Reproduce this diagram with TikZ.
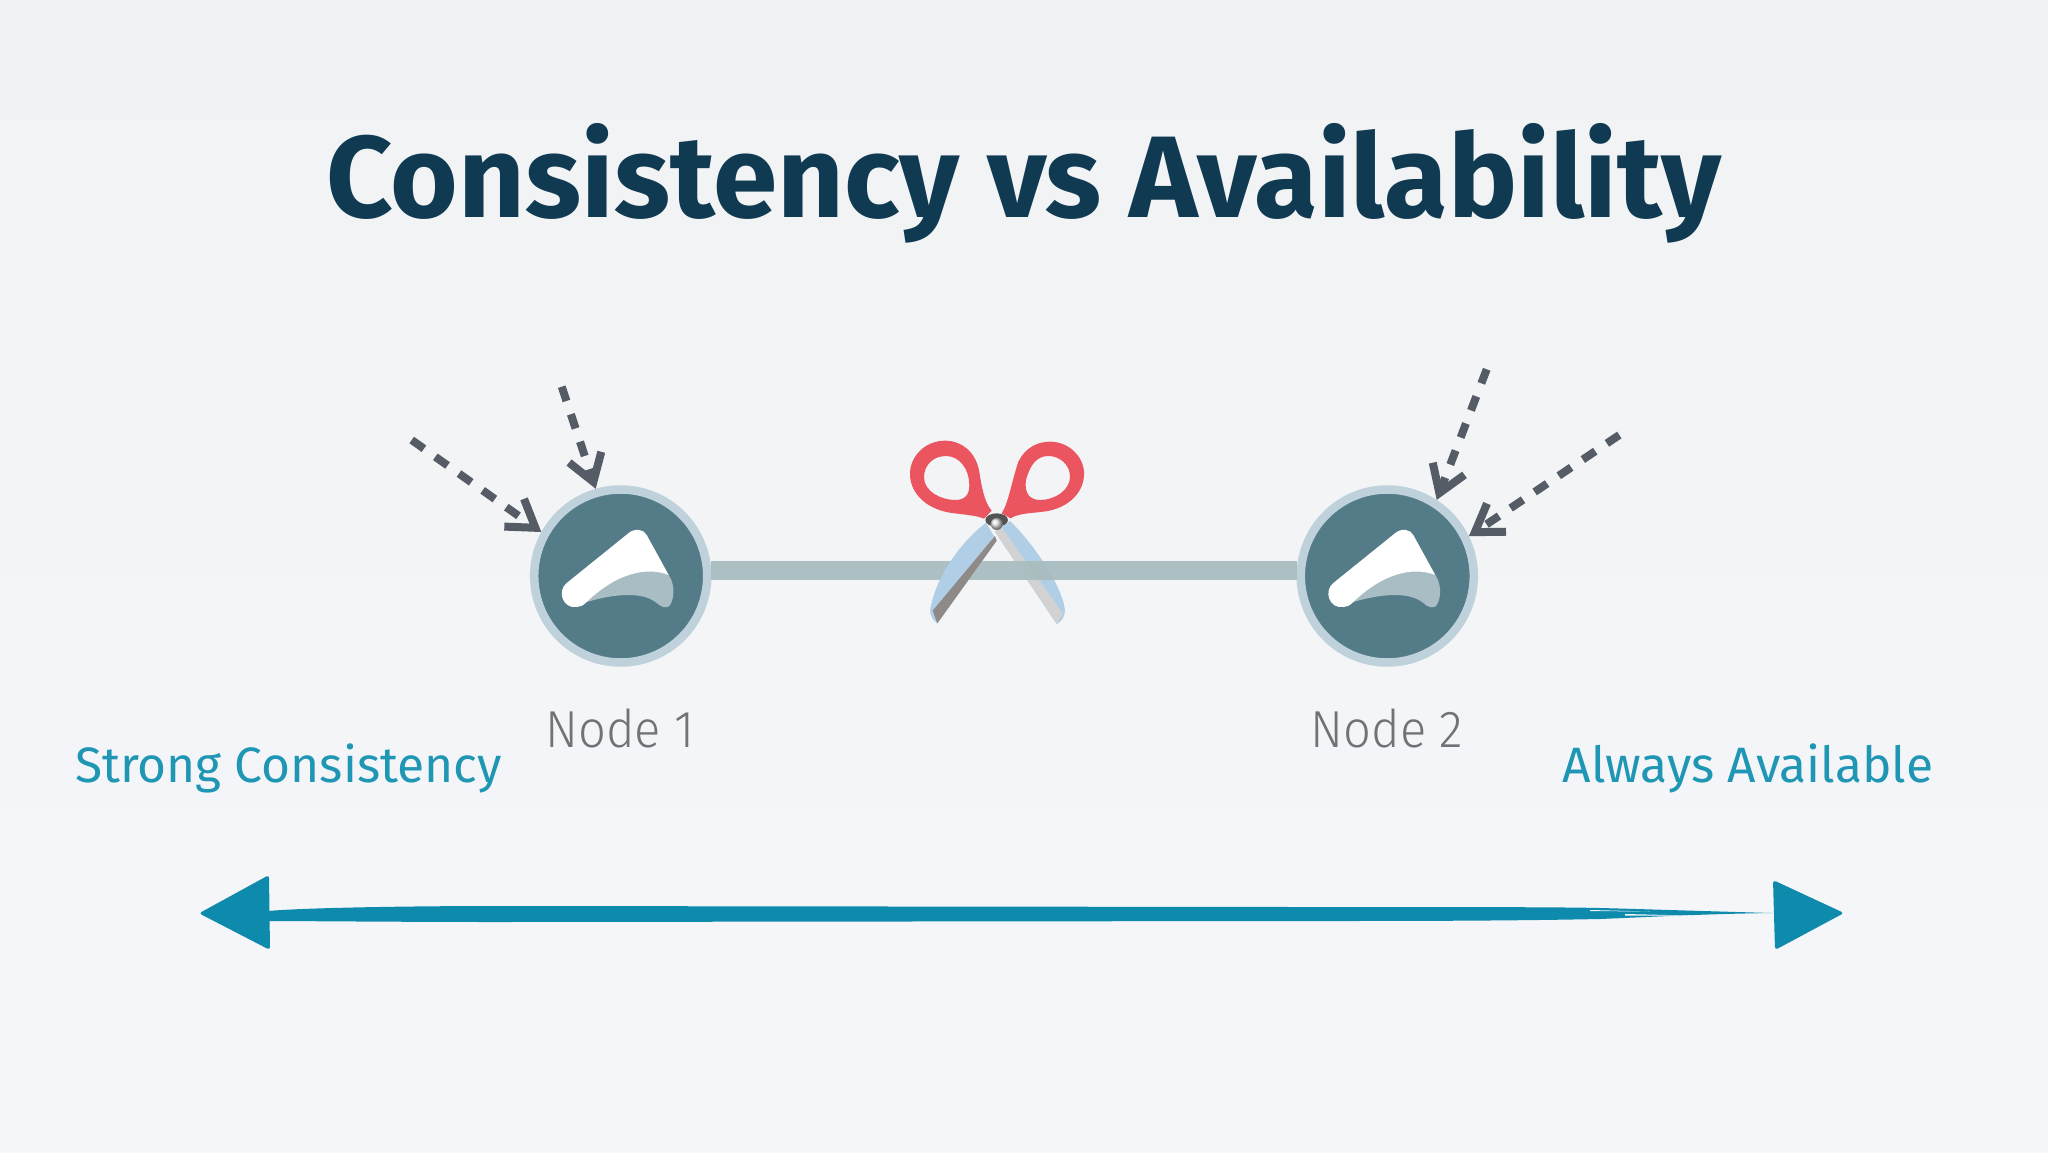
\documentclass[tikz,border=0pt]{standalone}
\usepackage{fontspec}
\usetikzlibrary{arrows.meta}
\setmainfont{Fira Sans}
\newfontfamily\lightfont[FakeStretch=0.94]{Fira Sans Light}
\definecolor{titleink}{HTML}{0F3A52}
\definecolor{spanink}{HTML}{0E8AAD}
\definecolor{labelink}{HTML}{1E96B4}
\definecolor{nodeink}{HTML}{6E7378}
\definecolor{reqink}{HTML}{565C66}
\definecolor{linkink}{HTML}{A9BDC0}
\definecolor{ringink}{HTML}{BFD2DC}
\definecolor{discink}{HTML}{537C88}
\definecolor{shadeink}{HTML}{A9BEC4}
\definecolor{handleink}{HTML}{EA5560}
\definecolor{bladeink}{HTML}{B0CFE6}
\definecolor{edgeink}{HTML}{8F8A88}
\definecolor{bgtop}{HTML}{F1F2F3}
\definecolor{bgmid}{HTML}{F3F5F9}
\definecolor{bgbot}{HTML}{F6F7FA}

\begin{document}
\begin{tikzpicture}[x=1pt,y=-1pt]

    \useasboundingbox (0,0) rectangle (2048,1152);

    % Styles
    \tikzstyle{srv}=[circle,draw=ringink,fill=discink,line width=8.5pt,minimum size=173pt,inner sep=0pt]
    \tikzstyle{req}=[draw=reqink,line width=8pt,dash pattern=on 15pt off 14pt,-{Straight Barb[length=26pt,width=34pt,line width=8pt]}]
    \tikzstyle{srvlabel}=[anchor=base,text=nodeink,font=\lightfont\fontsize{52}{52}\selectfont]
    \tikzstyle{sidelabel}=[anchor=base,text=labelink,font=\fontsize{49.7}{50}\selectfont]
    \tikzstyle{handle}=[fill=handleink,even odd rule]

    % background
    \shade[top color=bgtop,middle color=bgmid,bottom color=bgbot] (0,0) rectangle (2048,1152);

    % title
    \node[anchor=base,text=titleink,font=\bfseries\fontsize{116}{116}\selectfont] (title) at (1024,217) {Consistency vs Availability};

    % right blade, under the link
    \begin{scope}[shift={(880,420)},scale=1/3]
    \fill[bladeink] (345,335) -- (390,303) .. controls (450,360) and (545,490) .. (555,570) .. controls (555,590) and (545,605) .. (530,612) -- cycle;
    \fill[gray!35!white] (345,335) -- (530,612) -- (548,580) -- (365,322) -- cycle;
    \end{scope}

    % nodes
    \node[srv] (srva) at (620.7,576) {};
    \node[srv] (srvb) at (1387.3,576) {};

    % link
    \draw[linkink,line width=19pt,draw opacity=0.95] ([yshift=6pt]srva.east) -- ([yshift=6pt]srvb.west);

    % logo in the nodes
    \foreach \n in {srva,srvb} {
    \begin{scope}[shift={(\n)}]
    \fill[shadeink] (48,-1) .. controls (54,8) and (54,20) .. (50,28) .. controls (47,34) and (40,31) .. (36,27) .. controls (24,17) and (0,16) .. (-34,26) .. controls (-14,5) and (20,-14) .. (48,-1) -- cycle;
    \fill[white] (-54,7) -- (8,-43) .. controls (14,-48) and (23,-47) .. (26,-41) -- (48,-1) .. controls (25,-10) and (-5,-2) .. (-34,26) .. controls (-38,30) and (-41,31) .. (-44,31) .. controls (-58,33) and (-64,15) .. (-54,7) -- cycle;
    \end{scope}
    }

    % left blade and handles
    \begin{scope}[shift={(880,420)},scale=1/3]
    \fill[bladeink] (318,308) .. controls (250,360) and (170,460) .. (150,570) .. controls (150,585) and (158,600) .. (172,610) -- (350,362) -- cycle;
    \fill[edgeink] (345,348) -- (350,362) -- (172,610) -- (158,572) -- cycle;
    \fill[gray!65!black] (350,300) ellipse [x radius=34,y radius=20];
    \fill[handle] (335,272) .. controls (312,245) and (305,200) .. (297,150) .. controls (285,95) and (245,62) .. (195,62) .. controls (135,62) and (88,110) .. (90,165) .. controls (92,225) and (145,268) .. (210,278) .. controls (250,284) and (285,285) .. (312,296) -- cycle
    (198,108) .. controls (160,108) and (132,135) .. (132,172) .. controls (132,215) and (185,240) .. (225,240) .. controls (255,240) and (268,225) .. (268,195) .. controls (268,150) and (240,108) .. (198,108) -- cycle;
    \fill[handle] (365,280) .. controls (385,250) and (395,185) .. (415,125) .. controls (435,85) and (470,65) .. (510,65) .. controls (570,65) and (615,115) .. (612,165) .. controls (610,225) and (555,268) .. (490,275) .. controls (450,280) and (415,280) .. (392,295) -- cycle
    (505,108) .. controls (470,108) and (450,135) .. (438,180) .. controls (432,220) and (450,240) .. (480,240) .. controls (525,240) and (570,210) .. (570,170) .. controls (570,135) and (540,108) .. (505,108) -- cycle;
    \shade[ball color=gray!20!white] (350,312) circle [radius=18];
    \end{scope}

    % requests
    \coordinate (reqa) at (411.7,440);
    \coordinate (reqb) at (561.7,386.7);
    \coordinate (reqc) at (1486.7,369.3);
    \coordinate (reqd) at (1619.3,435);
    \draw[req] (reqa) -- (srva.151);
    \draw[req] (reqb) -- (srva.106);
    \draw[req] (reqc) -- (srvb.57);
    \draw[req] (reqd) -- (srvb.26);

    % labels
    \node[srvlabel] (laba) at (620,747) {Node 1};
    \node[srvlabel] (labb) at (1387,747) {Node 2};
    \node[sidelabel] (labl) at (288.5,782) {Strong Consistency};
    \node[sidelabel] (labr) at (1748,782) {Always Available};

    % span arrow
    \coordinate (spanl) at (268,916);
    \coordinate (spanr) at (1772,913);
    \fill[spanink,rounded corners=3pt] (199,913.3) -- (269,875) -- (270,950) -- cycle;
    \fill[spanink,rounded corners=3pt] (1844,913) -- (1773,880) -- (1775,950) -- cycle;
    \fill[spanink] (spanl) ++(0,-5) .. controls (300,908) and (400,906) .. (500,906) -- (1300,907) .. controls (1450,907) and (1560,907) .. (1600,908) .. controls (1640,909) and (1700,911) .. (spanr) .. controls (1700,914) and (1650,917) .. (1600,919) .. controls (1500,921) and (1400,921) .. (1300,921) -- (500,922) .. controls (400,922) and (300,921) .. (268,921) -- cycle;
    % brush streaks
    \fill[bgbot] (1625,914) -- (1690,915.5) -- (1625,915.5) -- cycle;
    \fill[bgbot] (1590,910) -- (1650,911.5) -- (1590,911) -- cycle;

\end{tikzpicture}
\end{document}
